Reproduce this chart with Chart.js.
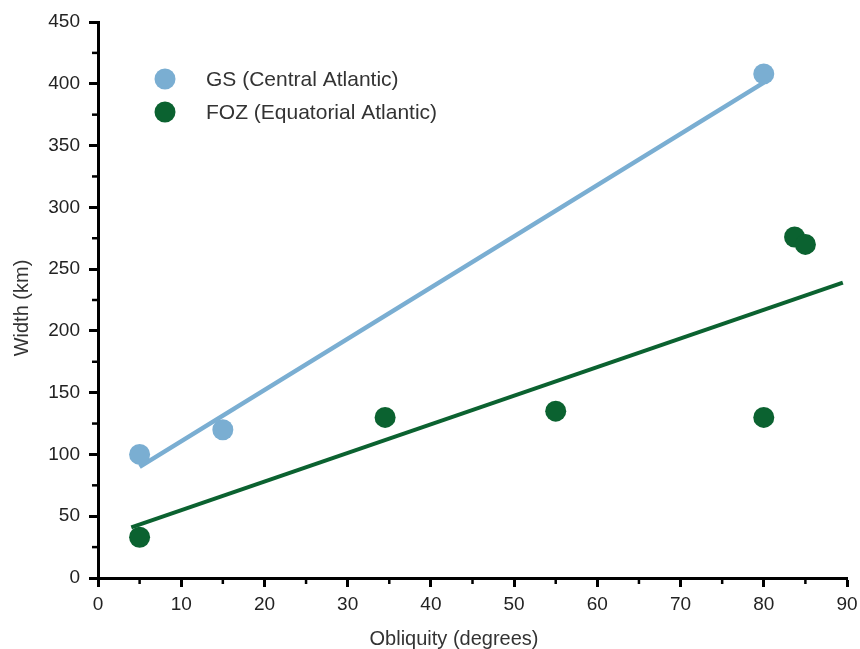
<!DOCTYPE html>
<html lang="en">
<head>
    <meta charset="UTF-8">
    <title>Width vs Obliquity</title>
    <script src="https://cdn.jsdelivr.net/npm/chart.js"></script>
    <style>
        html, body { margin: 0; padding: 0; background: #fff; }
        #box { width: 860px; height: 649px; }
    </style>
</head>
<body>
    <div id="box"><canvas id="grafico"></canvas></div>

<script>
    // dados
    var gsObliquidade = [5, 15, 80]
    var gsLargura = [100, 120, 408]
    var fozObliquidade = [5, 34.5, 55, 80, 83.7, 85]
    var fozLargura = [33, 130, 135, 130, 276, 270]

    // retas de ajuste (pontas)
    var gsRetaX = [5, 80]
    var gsRetaY = [90, 401]
    var fozRetaX = [4, 89.5]
    var fozRetaY = [41, 239]

    var ticksX = [0, 10, 20, 30, 40, 50, 60, 70, 80, 90]
    var ticksY = [0, 50, 100, 150, 200, 250, 300, 350, 400, 450]

    var nomesSeries = ['GS (Central Atlantic)', 'FOZ (Equatorial Atlantic)']
    var tituloX = 'Obliquity (degrees)'
    var tituloY = 'Width (km)'
    var azul = '#7aaed2'
    var verde = '#0b6230'
    var fonte = '"Liberation Sans", Arial, sans-serif'

    function pares(xs, ys) {
        return xs.map(function (x, i) { return { x: x, y: ys[i] } })
    }

    // ticks menores, titulos dos eixos e legenda dentro do grafico
    const extras = {
        id: 'extras',
        afterDraw(chart) {
            const ctx = chart.ctx
            const sx = chart.scales.x
            const sy = chart.scales.y
            const area = chart.chartArea
            ctx.save()
            ctx.strokeStyle = '#000'
            ctx.lineWidth = 2.5
            for (var i = 0; i < ticksX.length - 1; i++) {
                var px = sx.getPixelForValue((ticksX[i] + ticksX[i + 1]) / 2)
                ctx.beginPath()
                ctx.moveTo(px, area.bottom)
                ctx.lineTo(px, area.bottom + 6)
                ctx.stroke()
            }
            for (var j = 0; j < ticksY.length - 1; j++) {
                var py = sy.getPixelForValue((ticksY[j] + ticksY[j + 1]) / 2)
                ctx.beginPath()
                ctx.moveTo(area.left, py)
                ctx.lineTo(area.left - 6, py)
                ctx.stroke()
            }

            // titulos
            ctx.fillStyle = '#333'
            ctx.font = '20px ' + fonte
            ctx.textAlign = 'center'
            ctx.textBaseline = 'middle'
            ctx.fillText(tituloX, area.left + 356, area.bottom + 61)
            ctx.save()
            ctx.translate(22, area.top + 286)
            ctx.rotate(-Math.PI / 2)
            ctx.fillText(tituloY, 0, 0)
            ctx.restore()

            // legenda
            var cores = [azul, verde]
            ctx.font = '21px ' + fonte
            ctx.textAlign = 'left'
            for (var k = 0; k < nomesSeries.length; k++) {
                var ly = area.top + 57 + k * 33
                ctx.beginPath()
                ctx.fillStyle = cores[k]
                ctx.arc(area.left + 67, ly, 10.5, 0, Math.PI * 2)
                ctx.fill()
                ctx.fillStyle = '#333'
                ctx.fillText(nomesSeries[k], area.left + 108, ly + 1)
            }
            ctx.restore()
        }
    }

    const data = {
        datasets: [
            {
                label: nomesSeries[0],
                data: pares(gsObliquidade, gsLargura),
                backgroundColor: azul,
                borderColor: azul,
                pointRadius: 10.5,
                pointBorderWidth: 0,
                order: 1
            },
            {
                label: nomesSeries[1],
                data: pares(fozObliquidade, fozLargura),
                backgroundColor: verde,
                borderColor: verde,
                pointRadius: 10.5,
                pointBorderWidth: 0,
                order: 1
            },
            {
                label: 'gs fit',
                data: pares(gsRetaX, gsRetaY),
                showLine: true,
                borderColor: azul,
                borderWidth: 4.5,
                pointRadius: 0,
                order: 2
            },
            {
                label: 'foz fit',
                data: pares(fozRetaX, fozRetaY),
                showLine: true,
                borderColor: verde,
                borderWidth: 4,
                pointRadius: 0,
                order: 2
            }
        ]
    }

    const config = {
        type: 'scatter',
        data: data,
        options: {
            responsive: true,
            maintainAspectRatio: false,
            animation: false,
            layout: { padding: { left: 0, top: 22, right: 13, bottom: 0 } },
            plugins: {
                legend: { display: false },
                tooltip: { enabled: false }
            },
            scales: {
                x: {
                    type: 'linear',
                    min: 0,
                    max: 90,
                    afterBuildTicks: function (scale) {
                        scale.ticks = ticksX.map(function (v) { return { value: v } })
                    },
                    afterFit: function (scale) {
                        scale.height = 71
                        scale.paddingRight = 0
                        scale.paddingLeft = 0
                    },
                    border: { color: '#000', width: 3 },
                    grid: {
                        drawOnChartArea: false,
                        drawTicks: true,
                        tickLength: 9,
                        tickColor: '#000',
                        tickWidth: 3
                    },
                    ticks: {
                        color: '#222',
                        padding: 6,
                        maxRotation: 0,
                        font: { family: fonte, size: 19 }
                    }
                },
                y: {
                    type: 'linear',
                    min: 0,
                    max: 450,
                    afterBuildTicks: function (scale) {
                        scale.ticks = ticksY.map(function (v) { return { value: v } })
                    },
                    afterFit: function (scale) { scale.width = 98 },
                    border: { color: '#000', width: 3 },
                    grid: {
                        drawOnChartArea: false,
                        drawTicks: true,
                        tickLength: 9,
                        tickColor: '#000',
                        tickWidth: 3
                    },
                    ticks: {
                        color: '#222',
                        padding: 9,
                        font: { family: fonte, size: 19 }
                    }
                }
            }
        },
        plugins: [extras]
    }

    const grafico = new Chart(document.getElementById('grafico'), config)
</script>
</body>
</html>
